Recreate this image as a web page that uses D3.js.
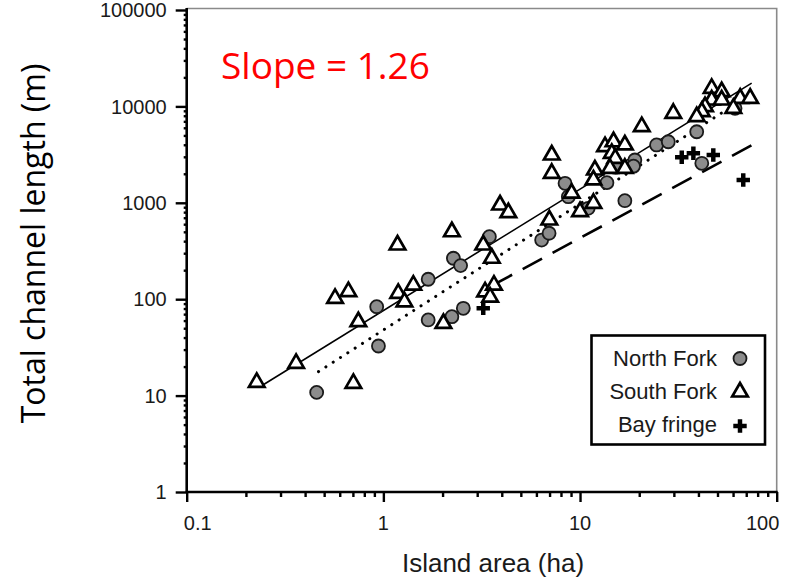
<!DOCTYPE html>
<html>
<head>
<meta charset="utf-8">
<script src="https://cdn.jsdelivr.net/npm/d3@7"></script>
<style>
  html, body { margin: 0; padding: 0; background: #fff; }
  svg { display: block; }
</style>
</head>
<body>
<svg id="chart" width="786" height="579"></svg>
<script>
// ---------------- data ----------------
const northForkArea   = [0.458, 0.925, 0.944, 1.69, 1.69, 2.23, 2.55, 2.27, 2.47, 3.46, 6.38, 6.96, 8.39, 8.72, 11.0, 13.7, 16.9, 15.1, 19.0, 18.7, 24.5, 28.1, 39.2, 41.6, 61.4];
const northForkLength = [10.8, 83.6, 32.7, 161, 60.9, 65.8, 80.5, 266, 223, 445, 411, 483, 1592, 1157, 877, 1618, 1052, 2340, 2780, 2400, 3980, 4300, 5460, 2570, 9550];

const southForkArea   = [0.227, 0.36, 0.746, 0.568, 0.664, 0.704, 1.18, 1.19, 1.28, 1.42, 2.02, 2.23, 3.22, 3.56, 3.29, 3.65, 3.49, 3.92, 4.32, 6.98, 7.18, 7.18, 9.06, 10.0, 11.7,
                         13.4, 14.8, 16.9, 14.5, 15.1, 16.9, 14.2, 11.9, 11.7, 20.6, 29.8,
                         46.7, 52.5, 46.7, 52.5, 43.2, 41.6, 39.2, 65.2, 73.3, 60.2];
const southForkLength = [13.7, 21.6, 58.4, 102, 120, 13.4, 365, 115, 94, 140, 56, 501, 365, 266, 119, 140, 105, 949, 789, 663, 3133, 2023, 1258, 809, 988,
                         3820, 4300, 3980, 3260, 2890, 2280, 2280, 2188, 1725, 6166, 8480,
                         15400, 14200, 11650, 11650, 9930, 8810, 7820, 12140, 12140, 9550];

const bayFringeArea   = [3.22, 32.9, 37.7, 47.6, 67.6];
const bayFringeLength = [80.5, 2966, 3260, 3133, 1725];

// fitted power-law lines: length = coef * area^exp, drawn between two areas
const fitNames  = ["solid", "dotted", "dashed"];
const fitCoef   = [76.2, 47.9, 34.0];
const fitExp    = [1.26, 1.309, 1.103];
const fitFrom   = [0.236, 0.468, 3.6];
const fitTo     = [74.6, 62.7, 74.7];

const xTickValues = [0.1, 1, 10, 100];
const xTickLabels = ["0.1", "1", "10", "100"];
const yTickValues = [1, 10, 100, 1000, 10000, 100000];
const yTickLabels = ["1", "10", "100", "1000", "10000", "100000"];

const legendLabels = ["North Fork", "South Fork", "Bay fringe"];
const slopeLabel = "Slope = 1.26";
const xTitle = "Island area (ha)";
const yTitle = "Total channel length (m)";

// ---------------- layout ----------------
const svg = d3.select("#chart");
const pLeft = 186.7, pRight = 776.7, pTop = 10, pBottom = 492;

const x = d3.scaleLog().domain([0.1, 100]).range([pLeft, pRight]);
const y = d3.scaleLog().domain([1, 100000]).range([pBottom, pTop]);

const tickFont = "'Liberation Sans', Arial, sans-serif";

// plot frame (grey top & right)
svg.append("path")
  .attr("d", `M${pLeft},${pTop - 1.5}H${pRight}V${pBottom}`)
  .attr("fill", "none").attr("stroke", "#8a8a8a").attr("stroke-width", 1.6);

// minor tick values
const minorX = [], minorY = [];
for (let e = -1; e < 2; e++) for (let m = 2; m < 10; m++) minorX.push(m * Math.pow(10, e));
for (let e = 0; e < 5; e++) for (let m = 2; m < 10; m++) minorY.push(m * Math.pow(10, e));

// x axis
const gx = svg.append("g").attr("transform", `translate(0,${pBottom})`);
gx.append("g").call(d3.axisBottom(x).tickValues(minorX).tickSize(5).tickFormat(""));
gx.append("g").call(d3.axisBottom(x).tickValues(xTickValues).tickSize(10).tickFormat(""));
gx.selectAll(".domain").remove();
gx.selectAll("line").attr("stroke", "#000").attr("stroke-width", 2.4);
svg.append("line").attr("x1", pLeft - 1).attr("x2", pRight + 1).attr("y1", pBottom).attr("y2", pBottom)
  .attr("stroke", "#000").attr("stroke-width", 2.6);

// x tick labels
const xLabelShift = [11, 0, 0, -14];
svg.append("g").selectAll("text").data(xTickValues).join("text")
  .attr("x", (d, i) => x(d) + xLabelShift[i])
  .attr("y", 530)
  .attr("text-anchor", "middle")
  .attr("font-family", tickFont).attr("font-size", 20).attr("fill", "#1a1a1a")
  .text((d, i) => xTickLabels[i]);

// y axis
const gy = svg.append("g").attr("transform", `translate(${pLeft},0)`);
gy.append("g").call(d3.axisLeft(y).tickValues(minorY).tickSize(3).tickFormat(""));
gy.append("g").call(d3.axisLeft(y).tickValues(yTickValues).tickSize(11).tickFormat(""));
gy.selectAll(".domain").remove();
gy.selectAll("line").attr("stroke", "#000").attr("stroke-width", 2.4);
svg.append("line").attr("x1", pLeft).attr("x2", pLeft).attr("y1", pTop - 2).attr("y2", pBottom + 1)
  .attr("stroke", "#000").attr("stroke-width", 2.6);

svg.append("g").selectAll("text").data(yTickValues).join("text")
  .attr("x", pLeft - 20)
  .attr("y", d => y(d))
  .attr("dy", "0.36em")
  .attr("text-anchor", "end")
  .attr("font-family", tickFont).attr("font-size", 20).attr("fill", "#1a1a1a")
  .text((d, i) => yTickLabels[i]);

// axis titles
svg.append("text")
  .attr("x", 493).attr("y", 572)
  .attr("text-anchor", "middle")
  .attr("font-family", tickFont).attr("font-size", 26).attr("fill", "#1a1a1a")
  .text(xTitle);

svg.append("text")
  .attr("transform", "translate(45,243.5) rotate(-90)")
  .attr("text-anchor", "middle")
  .attr("font-family", "'Open Sans', 'Noto Sans', sans-serif").attr("font-size", 32).attr("fill", "#000")
  .text(yTitle);

// slope annotation
svg.append("text")
  .attr("x", 221).attr("y", 78.5)
  .attr("font-family", "'Open Sans', 'Noto Sans', sans-serif").attr("font-size", 37).attr("fill", "#ff0000")
  .text(slopeLabel);

// ---------------- fit lines ----------------
const lineGen = d3.line().x(d => x(d[0])).y(d => y(d[1]));
const fitStyles = {
  solid:  { w: 1.6, dash: null, cap: "butt" },
  dotted: { w: 3.0, dash: "0.1,8.6", cap: "round" },
  dashed: { w: 2.6, dash: "22,12", cap: "butt" }
};
fitNames.forEach((name, i) => {
  const pts = [fitFrom[i], fitTo[i]].map(a => [a, fitCoef[i] * Math.pow(a, fitExp[i])]);
  const st = fitStyles[name];
  svg.append("path")
    .attr("d", lineGen(pts))
    .attr("fill", "none").attr("stroke", "#000")
    .attr("stroke-width", st.w)
    .attr("stroke-linecap", st.cap)
    .attr("stroke-dasharray", st.dash);
});

// ---------------- markers ----------------
const triPath = d3.symbol().type(d3.symbolTriangle).size(105)();
const crossPath = d3.symbol().type(d3.symbolCross).size(100)();

const nf = northForkArea.map((a, i) => [a, northForkLength[i]]);
const sf = southForkArea.map((a, i) => [a, southForkLength[i]]);
const bf = bayFringeArea.map((a, i) => [a, bayFringeLength[i]]);

svg.append("g").selectAll("circle").data(nf).join("circle")
  .attr("cx", d => x(d[0])).attr("cy", d => y(d[1])).attr("r", 6.5)
  .attr("fill", "#8c8c8c").attr("stroke", "#1a1a1a").attr("stroke-width", 1.8);

svg.append("g").selectAll("path").data(sf).join("path")
  .attr("d", triPath)
  .attr("transform", d => `translate(${x(d[0])},${y(d[1])})`)
  .attr("fill", "#fff").attr("stroke", "#000").attr("stroke-width", 2.7).attr("stroke-linejoin", "miter");

svg.append("g").selectAll("path").data(bf).join("path")
  .attr("d", crossPath)
  .attr("transform", d => `translate(${x(d[0])},${y(d[1])})`)
  .attr("fill", "#000");

// ---------------- legend ----------------
const lg = svg.append("g");
lg.append("rect").attr("x", 591.5).attr("y", 335.5).attr("width", 173.5).attr("height", 109)
  .attr("fill", "#fff").attr("stroke", "#000").attr("stroke-width", 2.6);
const legY = [358.5, 391, 424];
lg.selectAll("text").data(legendLabels).join("text")
  .attr("x", 717).attr("y", (d, i) => legY[i] + 7.5)
  .attr("text-anchor", "end")
  .attr("font-family", tickFont).attr("font-size", 22).attr("fill", "#1a1a1a")
  .text(d => d);
lg.append("circle").attr("cx", 740).attr("cy", legY[0]).attr("r", 6.5)
  .attr("fill", "#8c8c8c").attr("stroke", "#1a1a1a").attr("stroke-width", 1.8);
lg.append("path").attr("d", triPath).attr("transform", `translate(740,${legY[1] + 1})`)
  .attr("fill", "#fff").attr("stroke", "#000").attr("stroke-width", 2.7);
lg.append("path").attr("d", crossPath).attr("transform", `translate(740,${legY[2] + 2})`)
  .attr("fill", "#000");
</script>
</body>
</html>
